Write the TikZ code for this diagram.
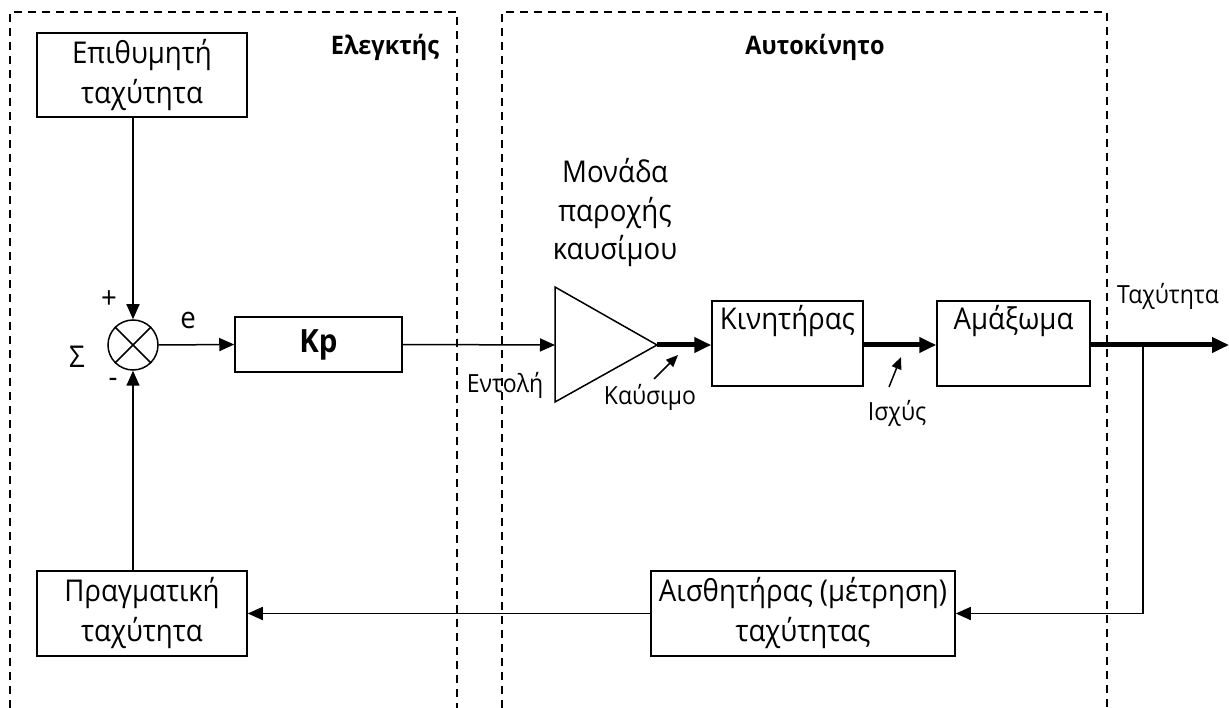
\documentclass[tikz,border=0pt]{standalone}
\usepackage{fontspec}
\setmainfont[FakeStretch=0.92]{Open Sans}
\usetikzlibrary{arrows.meta}
\tikzset{
  blk/.style={draw, line width=1.5pt, inner sep=0pt, align=center, font=\fontsize{30}{40}\selectfont},
  lbl/.style={inner sep=0pt, align=center, font=\fontsize{25}{30}\selectfont},
  big/.style={inner sep=0pt, align=center, font=\fontsize{30}{38.5}\selectfont},
  ttl/.style={inner sep=0pt, font=\fontsize{25.5}{32}\selectfont\bfseries},
  arr/.style={line width=1.5pt, -{Triangle[length=15pt,width=13pt]}},
  tarr/.style={line width=5pt, -{Triangle[length=17pt,width=15pt]}},
  sarr/.style={line width=1.5pt, -{Triangle[length=12pt,width=10pt]}},
  frame/.style={line width=1.3pt, dash pattern=on 8pt off 6pt},
}
\begin{document}
\begin{tikzpicture}[x=1pt,y=-1pt]
\useasboundingbox (0,0) rectangle (1229,708);
% frames
\draw[frame] (10,708) -- (10,12) -- (457,12) -- (457,708);
\draw[frame] (502,708) -- (502,12) -- (1107,12) -- (1107,708);
\node[ttl] (tctl) at (385,47) {Ελεγκτής};
\node[ttl] (tcar) at (815,47) {Αυτοκίνητο};
% blocks
\node[blk, minimum width=210pt, minimum height=84pt] (des) at (142,75) {Επιθυμητή\\ταχύτητα};
\node[draw, circle, line width=1.5pt, minimum size=50pt, inner sep=0pt] (sum) at (133,345) {};
\draw[line width=1.5pt] (sum.north west) -- (sum.south east) (sum.north east) -- (sum.south west);
\node[blk, minimum width=167pt, minimum height=55pt, font=\fontsize{32}{36}\selectfont\bfseries] (kp) at (318.5,344.5) {Kp};
\coordinate (tA) at (555,287);
\coordinate (tB) at (555,402);
\coordinate (tin) at (555,345);
\coordinate (apex) at (657,345);
\draw[line width=1.5pt, line join=miter] (tA) -- (apex) -- (tB) -- cycle;
\node[big] (fuelunit) at (615,213) {Μονάδα\\παροχής\\καυσίμου};
\node[draw, line width=1.5pt, minimum width=151pt, minimum height=85pt] (eng) at (787.5,343.5) {};
\node[big, anchor=north] (engt) at ([yshift=-5pt]eng.north) {Κινητήρας};
\node[draw, line width=1.5pt, minimum width=153pt, minimum height=85pt] (car) at (1013.5,343.5) {};
\node[big, anchor=north] (cart) at ([yshift=-5pt]car.north) {Αμάξωμα};
\node[blk, minimum width=304pt, minimum height=85pt] (sens) at (803,613.5) {Αισθητήρας (μέτρηση)\\ταχύτητας};
\node[blk, minimum width=210pt, minimum height=85pt] (real) at (142,613.5) {Πραγματική\\ταχύτητα};
% connectors
\draw[arr] (sum.north |- des.south) -- (sum.north);
\draw[arr] (sum.east) -- (kp.west);
\draw[arr] (kp.east) -- (tin);
\draw[tarr] (apex) -- (eng.west |- apex);
\draw[tarr] (eng.east |- apex) -- (car.west |- apex);
\coordinate (out) at (1229,345);
\coordinate (br) at (1143,345);
\coordinate (brd) at (1143,613.5);
\draw[tarr] (car.east |- apex) -- (out);
\draw[arr] (br) -- (brd) -- (sens.east);
\draw[arr] (sens.west) -- (real.east);
\draw[arr] (sum.south |- real.north) -- (sum.south);
% labels
\node[big] (plus) at (109,300) {+};
\node[big] (sig) at (77,357) {Σ};
\node[big] (minus) at (113,383) {-};
\node[big] (e) at (188,320) {e};
\node[lbl] (cmd) at (505,385) {Εντολή};
\node[lbl] (fuel) at (650,397) {Καύσιμο};
\node[lbl] (pow) at (897,413) {Ισχύς};
\node[lbl] (spd) at (1168,296) {Ταχύτητα};
\coordinate (fa) at (654,379);
\coordinate (fb) at (678,355);
\coordinate (pa) at (889,387);
\coordinate (pb) at (901,357);
\draw[sarr] (fa) -- (fb);
\draw[sarr] (pa) -- (pb);
\end{tikzpicture}
\end{document}
